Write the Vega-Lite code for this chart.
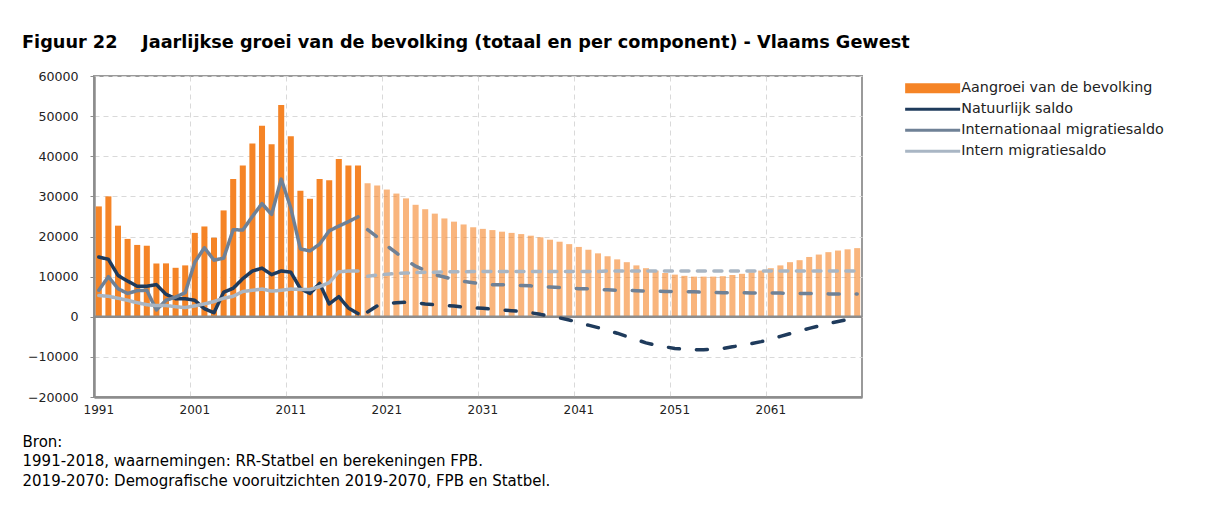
{
  "$schema": "https://vega.github.io/schema/vega-lite/v6.json",
  "autosize": "none",
  "width": 768,
  "height": 321,
  "padding": {"left": 94, "top": 76, "right": 352, "bottom": 111},
  "background": "white",
  "title": {
    "text": "Figuur 22\u00a0\u00a0\u00a0\u00a0Jaarlijkse groei van de bevolking (totaal en per component) - Vlaams Gewest",
    "anchor": "start",
    "frame": "group",
    "dx": -72,
    "offset": 28,
    "dy": 24,
    "baseline": "alphabetic",
    "font": "DejaVu Sans",
    "fontSize": 17.7,
    "fontWeight": "bold",
    "color": "#000000"
  },
  "config": {
    "font": "DejaVu Sans",
    "view": {"stroke": "#9a9a9a", "strokeWidth": 2},
    "axis": {
      "grid": true,
      "gridColor": "#d9d9d9",
      "gridDash": [5, 4],
      "gridWidth": 1,
      "domainColor": "#8c8c8c",
      "domainWidth": 2.5,
      "labelColor": "#222222",
      "labelFont": "DejaVu Sans"
    },
    "axisX": {
      "bandPosition": 0,
      "labelOffset": 0,
      "labelAngle": 0,
      "ticks": false,
      "labelPadding": 7,
      "labelFontSize": 12,
      "titleX": -72,
      "titleY": 37,
      "titleAlign": "left",
      "titleAnchor": "start",
      "titleBaseline": "top",
      "titleFontWeight": "normal",
      "titleFontSize": 15,
      "titleLineHeight": 19.5,
      "titleColor": "#000000",
      "titleFont": "DejaVu Sans"
    },
    "axisY": {
      "tickSize": 4,
      "tickColor": "#8c8c8c",
      "labelPadding": 12,
      "labelFontSize": 12.6
    },
    "legend": {
      "labelFont": "DejaVu Sans",
      "labelFontSize": 14.3,
      "labelColor": "#222222",
      "labelLimit": 400
    }
  },
  "data": {
    "values": [
      {"jaar": 1991, "periode": "waarneming", "aangroei": 27500, "natuurlijk": 14900, "internationaal": 6600, "intern": 5300},
      {"jaar": 1992, "periode": "waarneming", "aangroei": 30000, "natuurlijk": 14300, "internationaal": 10000, "intern": 5100},
      {"jaar": 1993, "periode": "waarneming", "aangroei": 22700, "natuurlijk": 10300, "internationaal": 7000, "intern": 4600},
      {"jaar": 1994, "periode": "waarneming", "aangroei": 19400, "natuurlijk": 8900, "internationaal": 5800, "intern": 4100},
      {"jaar": 1995, "periode": "waarneming", "aangroei": 17900, "natuurlijk": 7600, "internationaal": 6500, "intern": 3500},
      {"jaar": 1996, "periode": "waarneming", "aangroei": 17700, "natuurlijk": 7600, "internationaal": 6600, "intern": 3000},
      {"jaar": 1997, "periode": "waarneming", "aangroei": 13300, "natuurlijk": 8000, "internationaal": 1700, "intern": 2800},
      {"jaar": 1998, "periode": "waarneming", "aangroei": 13300, "natuurlijk": 5600, "internationaal": 4100, "intern": 2800},
      {"jaar": 1999, "periode": "waarneming", "aangroei": 12200, "natuurlijk": 4500, "internationaal": 4900, "intern": 2500},
      {"jaar": 2000, "periode": "waarneming", "aangroei": 12800, "natuurlijk": 4500, "internationaal": 6000, "intern": 2300},
      {"jaar": 2001, "periode": "waarneming", "aangroei": 20900, "natuurlijk": 4100, "internationaal": 13600, "intern": 2700},
      {"jaar": 2002, "periode": "waarneming", "aangroei": 22500, "natuurlijk": 2000, "internationaal": 17200, "intern": 3200},
      {"jaar": 2003, "periode": "waarneming", "aangroei": 19700, "natuurlijk": 1000, "internationaal": 14100, "intern": 3800},
      {"jaar": 2004, "periode": "waarneming", "aangroei": 26500, "natuurlijk": 6100, "internationaal": 14600, "intern": 4600},
      {"jaar": 2005, "periode": "waarneming", "aangroei": 34300, "natuurlijk": 7100, "internationaal": 21700, "intern": 5100},
      {"jaar": 2006, "periode": "waarneming", "aangroei": 37700, "natuurlijk": 9500, "internationaal": 21600, "intern": 6300},
      {"jaar": 2007, "periode": "waarneming", "aangroei": 43200, "natuurlijk": 11400, "internationaal": 25000, "intern": 6600},
      {"jaar": 2008, "periode": "waarneming", "aangroei": 47600, "natuurlijk": 12100, "internationaal": 28200, "intern": 6900},
      {"jaar": 2009, "periode": "waarneming", "aangroei": 43000, "natuurlijk": 10500, "internationaal": 25500, "intern": 6400},
      {"jaar": 2010, "periode": "waarneming", "aangroei": 52800, "natuurlijk": 11400, "internationaal": 34300, "intern": 6600},
      {"jaar": 2011, "periode": "waarneming", "aangroei": 45000, "natuurlijk": 11100, "internationaal": 27100, "intern": 6900},
      {"jaar": 2012, "periode": "waarneming", "aangroei": 31400, "natuurlijk": 7000, "internationaal": 16900, "intern": 6800},
      {"jaar": 2013, "periode": "waarneming", "aangroei": 29400, "natuurlijk": 5800, "internationaal": 16400, "intern": 6800},
      {"jaar": 2014, "periode": "waarneming", "aangroei": 34300, "natuurlijk": 8300, "internationaal": 18100, "intern": 7500},
      {"jaar": 2015, "periode": "waarneming", "aangroei": 34000, "natuurlijk": 3200, "internationaal": 21400, "intern": 8500},
      {"jaar": 2016, "periode": "waarneming", "aangroei": 39300, "natuurlijk": 5000, "internationaal": 22600, "intern": 11200},
      {"jaar": 2017, "periode": "waarneming", "aangroei": 37700, "natuurlijk": 2200, "internationaal": 23700, "intern": 11400},
      {"jaar": 2018, "periode": "waarneming", "aangroei": 37700, "natuurlijk": 800, "internationaal": 24900, "intern": 11400},
      {"jaar": 2019, "periode": "projectie", "aangroei": 33300, "natuurlijk": 1200, "internationaal": 21700, "intern": 10100},
      {"jaar": 2020, "periode": "projectie", "aangroei": 32700, "natuurlijk": 2700, "internationaal": 19900, "intern": 10400},
      {"jaar": 2021, "periode": "projectie", "aangroei": 31700, "natuurlijk": 3300, "internationaal": 17700, "intern": 10600},
      {"jaar": 2022, "periode": "projectie", "aangroei": 30700, "natuurlijk": 3500, "internationaal": 15900, "intern": 10800},
      {"jaar": 2023, "periode": "projectie", "aangroei": 29500, "natuurlijk": 3600, "internationaal": 14100, "intern": 10900},
      {"jaar": 2024, "periode": "projectie", "aangroei": 27900, "natuurlijk": 3500, "internationaal": 12600, "intern": 11000},
      {"jaar": 2025, "periode": "projectie", "aangroei": 26800, "natuurlijk": 3200, "internationaal": 11500, "intern": 11100},
      {"jaar": 2026, "periode": "projectie", "aangroei": 25700, "natuurlijk": 3000, "internationaal": 10500, "intern": 11100},
      {"jaar": 2027, "periode": "projectie", "aangroei": 24500, "natuurlijk": 2800, "internationaal": 9900, "intern": 11200},
      {"jaar": 2028, "periode": "projectie", "aangroei": 23700, "natuurlijk": 2700, "internationaal": 9300, "intern": 11200},
      {"jaar": 2029, "periode": "projectie", "aangroei": 23000, "natuurlijk": 2400, "internationaal": 8800, "intern": 11200},
      {"jaar": 2030, "periode": "projectie", "aangroei": 22300, "natuurlijk": 2200, "internationaal": 8500, "intern": 11300},
      {"jaar": 2031, "periode": "projectie", "aangroei": 21900, "natuurlijk": 2100, "internationaal": 8200, "intern": 11300},
      {"jaar": 2032, "periode": "projectie", "aangroei": 21600, "natuurlijk": 1900, "internationaal": 8000, "intern": 11300},
      {"jaar": 2033, "periode": "projectie", "aangroei": 21200, "natuurlijk": 1700, "internationaal": 8000, "intern": 11300},
      {"jaar": 2034, "periode": "projectie", "aangroei": 20900, "natuurlijk": 1500, "internationaal": 7900, "intern": 11300},
      {"jaar": 2035, "periode": "projectie", "aangroei": 20600, "natuurlijk": 1300, "internationaal": 7800, "intern": 11300},
      {"jaar": 2036, "periode": "projectie", "aangroei": 20200, "natuurlijk": 1000, "internationaal": 7700, "intern": 11300},
      {"jaar": 2037, "periode": "projectie", "aangroei": 19800, "natuurlijk": 600, "internationaal": 7500, "intern": 11300},
      {"jaar": 2038, "periode": "projectie", "aangroei": 19200, "natuurlijk": 100, "internationaal": 7400, "intern": 11300},
      {"jaar": 2039, "periode": "projectie", "aangroei": 18700, "natuurlijk": -300, "internationaal": 7300, "intern": 11300},
      {"jaar": 2040, "periode": "projectie", "aangroei": 18100, "natuurlijk": -800, "internationaal": 7100, "intern": 11300},
      {"jaar": 2041, "periode": "projectie", "aangroei": 17400, "natuurlijk": -1500, "internationaal": 7000, "intern": 11300},
      {"jaar": 2042, "periode": "projectie", "aangroei": 16700, "natuurlijk": -2100, "internationaal": 7000, "intern": 11300},
      {"jaar": 2043, "periode": "projectie", "aangroei": 15800, "natuurlijk": -2700, "internationaal": 6800, "intern": 11300},
      {"jaar": 2044, "periode": "projectie", "aangroei": 15100, "natuurlijk": -3400, "internationaal": 6700, "intern": 11400},
      {"jaar": 2045, "periode": "projectie", "aangroei": 14300, "natuurlijk": -4100, "internationaal": 6600, "intern": 11400},
      {"jaar": 2046, "periode": "projectie", "aangroei": 13600, "natuurlijk": -4900, "internationaal": 6600, "intern": 11400},
      {"jaar": 2047, "periode": "projectie", "aangroei": 12800, "natuurlijk": -5700, "internationaal": 6500, "intern": 11400},
      {"jaar": 2048, "periode": "projectie", "aangroei": 12100, "natuurlijk": -6500, "internationaal": 6400, "intern": 11400},
      {"jaar": 2049, "periode": "projectie", "aangroei": 11500, "natuurlijk": -7100, "internationaal": 6400, "intern": 11400},
      {"jaar": 2050, "periode": "projectie", "aangroei": 10900, "natuurlijk": -7500, "internationaal": 6300, "intern": 11400},
      {"jaar": 2051, "periode": "projectie", "aangroei": 10500, "natuurlijk": -7900, "internationaal": 6300, "intern": 11400},
      {"jaar": 2052, "periode": "projectie", "aangroei": 10200, "natuurlijk": -8100, "internationaal": 6200, "intern": 11400},
      {"jaar": 2053, "periode": "projectie", "aangroei": 10000, "natuurlijk": -8200, "internationaal": 6200, "intern": 11400},
      {"jaar": 2054, "periode": "projectie", "aangroei": 10000, "natuurlijk": -8200, "internationaal": 6100, "intern": 11400},
      {"jaar": 2055, "periode": "projectie", "aangroei": 10000, "natuurlijk": -8100, "internationaal": 6100, "intern": 11400},
      {"jaar": 2056, "periode": "projectie", "aangroei": 10100, "natuurlijk": -7900, "internationaal": 6000, "intern": 11400},
      {"jaar": 2057, "periode": "projectie", "aangroei": 10400, "natuurlijk": -7500, "internationaal": 6000, "intern": 11400},
      {"jaar": 2058, "periode": "projectie", "aangroei": 10700, "natuurlijk": -7100, "internationaal": 6000, "intern": 11400},
      {"jaar": 2059, "periode": "projectie", "aangroei": 11100, "natuurlijk": -6700, "internationaal": 5900, "intern": 11400},
      {"jaar": 2060, "periode": "projectie", "aangroei": 11500, "natuurlijk": -6200, "internationaal": 5900, "intern": 11400},
      {"jaar": 2061, "periode": "projectie", "aangroei": 12100, "natuurlijk": -5600, "internationaal": 5900, "intern": 11400},
      {"jaar": 2062, "periode": "projectie", "aangroei": 12800, "natuurlijk": -4900, "internationaal": 5900, "intern": 11400},
      {"jaar": 2063, "periode": "projectie", "aangroei": 13600, "natuurlijk": -4200, "internationaal": 5800, "intern": 11400},
      {"jaar": 2064, "periode": "projectie", "aangroei": 14100, "natuurlijk": -3500, "internationaal": 5800, "intern": 11400},
      {"jaar": 2065, "periode": "projectie", "aangroei": 14900, "natuurlijk": -2900, "internationaal": 5800, "intern": 11400},
      {"jaar": 2066, "periode": "projectie", "aangroei": 15500, "natuurlijk": -2300, "internationaal": 5800, "intern": 11400},
      {"jaar": 2067, "periode": "projectie", "aangroei": 16100, "natuurlijk": -1700, "internationaal": 5700, "intern": 11400},
      {"jaar": 2068, "periode": "projectie", "aangroei": 16500, "natuurlijk": -1200, "internationaal": 5700, "intern": 11400},
      {"jaar": 2069, "periode": "projectie", "aangroei": 16800, "natuurlijk": -700, "internationaal": 5700, "intern": 11400},
      {"jaar": 2070, "periode": "projectie", "aangroei": 17100, "natuurlijk": -300, "internationaal": 5700, "intern": 11400}
    ]
  },
  "layer": [
    {
      "mark": {"type": "bar", "width": {"band": 0.63}},
      "encoding": {
        "x": {
          "field": "jaar", "type": "ordinal",
          "scale": {"paddingInner": 0, "paddingOuter": 0},
          "axis": {
            "values": [1991, 2001, 2011, 2021, 2031, 2041, 2051, 2061],
            "title": ["Bron:", "1991-2018, waarnemingen: RR-Statbel en berekeningen FPB.", "2019-2070: Demografische vooruitzichten 2019-2070, FPB en Statbel."]
          }
        },
        "y": {
          "field": "aangroei", "type": "quantitative", "stack": null,
          "scale": {"domain": [-20000, 60000], "nice": false},
          "axis": {"values": [-20000, -10000, 0, 10000, 20000, 30000, 40000, 50000, 60000], "format": "d", "title": null}
        },
        "color": {
          "datum": "aangroei", "type": "nominal",
          "scale": {
            "domain": ["aangroei", "natuurlijk", "internationaal", "intern"],
            "range": ["#f58426", "#1f3b5c", "#6f8196", "#a9b6c4"]
          }
        },
        "opacity": {
          "field": "periode", "type": "nominal",
          "scale": {"domain": ["waarneming", "projectie"], "range": [1, 0.6]},
          "legend": null
        }
      }
    },
    {
      "data": {"values": [{}]},
      "mark": {"type": "rule", "color": "#8c8c8c", "strokeWidth": 2.5},
      "encoding": {"y": {"datum": 0, "type": "quantitative"}}
    },
    {
      "transform": [{"fold": ["natuurlijk", "internationaal"], "as": ["reeks", "waarde"]}],
      "mark": {"type": "line", "strokeWidth": 3.5, "strokeCap": "round", "strokeJoin": "round"},
      "encoding": {
        "x": {
          "field": "jaar", "type": "ordinal",
          "scale": {"paddingInner": 0, "paddingOuter": 0},
          "axis": {
            "values": [1991, 2001, 2011, 2021, 2031, 2041, 2051, 2061],
            "title": ["Bron:", "1991-2018, waarnemingen: RR-Statbel en berekeningen FPB.", "2019-2070: Demografische vooruitzichten 2019-2070, FPB en Statbel."]
          }
        },
        "y": {"field": "waarde", "type": "quantitative", "axis": {"title": null}},
        "color": {
          "field": "reeks", "type": "nominal",
          "scale": {
            "domain": ["aangroei", "natuurlijk", "internationaal", "intern"],
            "range": ["#f58426", "#1f3b5c", "#6f8196", "#a9b6c4"]
          },
          "legend": {
            "title": null,
            "orient": "none",
            "legendX": 809,
            "legendY": 5,
            "padding": 0,
            "symbolSize": 100,
            "labelOffset": 44,
            "rowPadding": 6,
            "labelExpr": "datum.value === 'aangroei' ? 'Aangroei van de bevolking' : datum.value === 'natuurlijk' ? 'Natuurlijk saldo' : datum.value === 'internationaal' ? 'Internationaal migratiesaldo' : 'Intern migratiesaldo'",
            "encode": {
              "symbols": {
                "update": {
                  "shape": {"signal": "datum.value === 'aangroei' ? 'M-1,-1H10V1H-1Z' : 'M-1,-0.3H10V0.3H-1Z'"},
                  "fill": {"scale": "color", "field": "value"},
                  "stroke": {"value": "transparent"},
                  "strokeWidth": {"value": 0},
                  "opacity": {"value": 1}
                }
              }
            }
          }
        },
        "strokeDash": {
          "field": "periode", "type": "nominal",
          "scale": {"domain": ["waarneming", "projectie"], "range": [[1, 0], [11, 17]]},
          "legend": null
        }
      }
    },
    {
      "mark": {"type": "line", "strokeWidth": 3.5, "strokeCap": "round", "strokeJoin": "round"},
      "encoding": {
        "x": {
          "field": "jaar", "type": "ordinal",
          "scale": {"paddingInner": 0, "paddingOuter": 0},
          "axis": {
            "values": [1991, 2001, 2011, 2021, 2031, 2041, 2051, 2061],
            "title": ["Bron:", "1991-2018, waarnemingen: RR-Statbel en berekeningen FPB.", "2019-2070: Demografische vooruitzichten 2019-2070, FPB en Statbel."]
          }
        },
        "y": {"field": "intern", "type": "quantitative", "axis": {"title": null}},
        "color": {"datum": "intern", "type": "nominal"},
        "strokeDash": {
          "field": "periode", "type": "nominal",
          "scale": {"domain": ["waarneming", "projectie"], "range": [[1, 0], [8, 8.5]]},
          "legend": null
        }
      }
    }
  ],
  "resolve": {"scale": {"strokeDash": "independent"}}
}
